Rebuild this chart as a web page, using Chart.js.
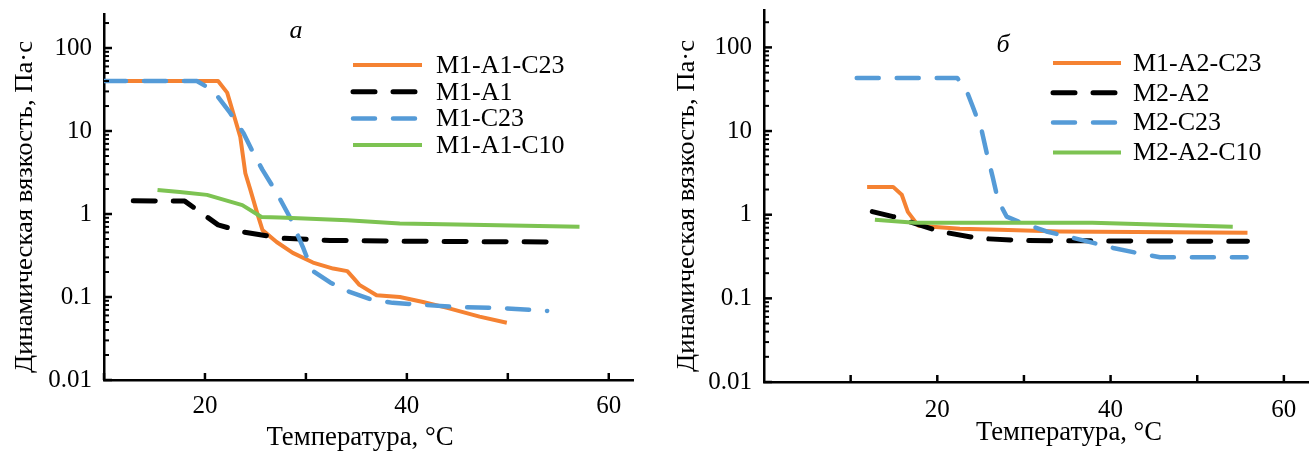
<!DOCTYPE html>
<html>
<head>
<meta charset="utf-8">
<script src="https://cdn.jsdelivr.net/npm/chart.js@4.4.0/dist/chart.umd.min.js"></script>
<style>
  html, body { margin: 0; padding: 0; background: #fff; }
  #wrap { position: relative; width: 1309px; height: 452px; overflow: hidden; }
  .panel { position: absolute; top: 0; height: 452px; }
  #pa { left: 0; width: 650px; }
  #pb { left: 650px; width: 659px; }
</style>
</head>
<body>
<div id="wrap">
  <div class="panel" id="pa"><canvas id="chartA"></canvas></div>
  <div class="panel" id="pb"><canvas id="chartB"></canvas></div>
</div>
<script>
// --- Data (temperature, °C / viscosity, Pa·s) ---
// panel а
const aLabels = ['M1-A1-C23', 'M1-A1', 'M1-C23', 'M1-A1-C10'];
const aT_M1A1C23 = [10, 21.3, 22.2, 22.8, 23.5, 24.0, 24.5, 25.1, 25.7, 27.1, 28.7, 30.7, 32.7, 34.1, 34.7, 35.3, 37.0, 39.3, 41.6, 44.0, 47.2, 49.9];
const aV_M1A1C23 = [40, 40, 29, 16.5, 8.5, 3.1, 1.95, 1.1, 0.64, 0.46, 0.34, 0.26, 0.22, 0.205, 0.17, 0.14, 0.105, 0.10, 0.087, 0.074, 0.058, 0.049];
const aT_M1A1 = [12.9, 18.0, 19.8, 21.3, 23.7, 27.7, 32.4, 40, 54.2];
const aV_M1A1 = [1.44, 1.43, 1.0, 0.74, 0.61, 0.51, 0.48, 0.47, 0.46];
const aT_M1C23 = [10, 19.2, 20.2, 21.3, 22.5, 23.8, 24.8, 25.7, 27.1, 28.4, 29.7, 30.6, 32.4, 34.1, 36.3, 38.6, 40.6, 44.6, 48.9, 53.9];
const aV_M1C23 = [40, 40, 34, 25.7, 16.5, 9.5, 5.4, 3.4, 1.8, 0.92, 0.40, 0.21, 0.15, 0.118, 0.095, 0.085, 0.082, 0.076, 0.074, 0.068];
const aT_M1A1C10 = [15.3, 17.5, 20.2, 23.7, 25.6, 27.4, 34.1, 39.3, 45, 57.1];
const aV_M1A1C10 = [1.95, 1.84, 1.7, 1.28, 0.92, 0.91, 0.84, 0.77, 0.75, 0.70];

// panel б
const bLabels = ['M1-A2-C23', 'M2-A2', 'M2-C23', 'M2-A2-C10'];
const bT_M1A2C23 = [11.9, 14.9, 15.9, 16.6, 17.8, 22.6, 27.2, 34.1, 55.8];
const bV_M1A2C23 = [2.15, 2.15, 1.73, 1.08, 0.74, 0.68, 0.66, 0.63, 0.61];
const bT_M2A2 = [12.5, 14.9, 20.3, 24.9, 30.3, 55.8];
const bV_M2A2 = [1.09, 0.95, 0.63, 0.52, 0.49, 0.48];
const bT_M2C23 = [10.7, 22.3, 23.2, 24.1, 25.1, 25.7, 26.4, 27.0, 28.0, 29.5, 32.6, 37.3, 40.3, 43.0, 45.7, 55.7];
const bV_M2C23 = [43, 43, 34, 19.5, 10.4, 5.5, 2.8, 1.5, 0.95, 0.82, 0.63, 0.48, 0.40, 0.35, 0.31, 0.31];
const bT_M2A2C10 = [12.8, 17.4, 37.9, 54.1];
const bV_M2A2C10 = [0.87, 0.80, 0.80, 0.72];

// ticks
const yTickLabels = [0.01, 0.1, 1, 10, 100];
const yMinorSteps = [2, 3, 4, 5, 6, 7, 8, 9];
const xTicks = [10, 20, 30, 40, 50, 60];
const xTickLabels = [20, 40, 60];

const xTitle = 'Температура, °C';
const yTitle = 'Динамическая вязкость, Па·с';

// --- Helpers ---
const ORANGE = '#F58232', BLACK = '#000000', BLUE = '#559BD7', GREEN = '#7DC352';
const SERIF = '"Liberation Serif", "Times New Roman", serif';

function pts(xs, ys) { return xs.map((x, i) => ({ x: x, y: ys[i] })); }

function yTickList() {
  const out = [];
  yTickLabels.forEach(d => {
    out.push(d);
    if (d < 100) yMinorSteps.forEach(m => out.push(+(d * m).toPrecision(3)));
  });
  out.push(200);
  return out;
}

function makeSets(labels, series) {
  const styles = [
    { borderColor: ORANGE, borderWidth: 4, borderDash: [], order: 4 },
    { borderColor: BLACK, borderWidth: 5, borderDash: [22, 18], order: 3 },
    { borderColor: BLUE, borderWidth: 4.5, borderDash: [22, 18], order: 2 },
    { borderColor: GREEN, borderWidth: 4, borderDash: [], order: 1 }
  ];
  return series.map((s, i) => Object.assign({
    label: labels[i],
    data: pts(s[0], s[1]),
    pointRadius: 0,
    tension: 0,
    fill: false,
    borderCapStyle: styles[i].borderDash.length ? 'round' : 'butt',
    borderJoinStyle: 'round'
  }, styles[i]));
}

// inward tick marks, legend, titles
const decor = {
  id: 'decor',
  afterDraw(chart, args, o) {
    const ctx = chart.ctx, xs = chart.scales.x, ys = chart.scales.y;
    ctx.save();
    ctx.strokeStyle = '#000';
    ctx.lineCap = 'butt';
    ys.ticks.forEach(t => {
      const y = ys.getPixelForValue(t.value);
      const major = yTickLabels.includes(t.value);
      ctx.lineWidth = major ? 2.5 : 2;
      ctx.beginPath();
      ctx.moveTo(xs.left, y);
      ctx.lineTo(xs.left + (major ? 8 : 5), y);
      ctx.stroke();
    });
    ctx.lineWidth = 2.5;
    xs.ticks.forEach(t => {
      const x = xs.getPixelForValue(t.value);
      ctx.beginPath();
      ctx.moveTo(x, ys.bottom);
      ctx.lineTo(x, ys.bottom - 7);
      ctx.stroke();
    });

    // legend
    const lg = o.legend;
    ctx.font = '26px ' + SERIF;
    ctx.textAlign = 'left';
    ctx.textBaseline = 'middle';
    chart.data.datasets.forEach((ds, i) => {
      const y = lg.y + i * lg.step;
      ctx.setLineDash(ds.borderDash);
      ctx.lineCap = ds.borderCapStyle;
      ctx.strokeStyle = ds.borderColor;
      ctx.lineWidth = ds.borderWidth;
      ctx.beginPath();
      ctx.moveTo(lg.x0, y);
      ctx.lineTo(lg.x1, y);
      ctx.stroke();
      ctx.fillStyle = '#000';
      ctx.fillText(ds.label, lg.tx, y + 1);
    });
    ctx.setLineDash([]);

    // panel letter
    ctx.font = 'italic 26px ' + SERIF;
    ctx.textAlign = 'center';
    ctx.textBaseline = 'alphabetic';
    ctx.fillText(o.letter.text, o.letter.x, o.letter.y);

    // axis titles fitted to width
    const fit = (txt, w) => w / ctx.measureText(txt).width;
    ctx.font = '27px ' + SERIF;
    ctx.save();
    ctx.translate(o.xTitle.x, o.xTitle.y);
    ctx.scale(fit(xTitle, o.xTitle.w), 1);
    ctx.fillText(xTitle, 0, 0);
    ctx.restore();
    ctx.font = '26px ' + SERIF;
    ctx.save();
    ctx.translate(o.yTitle.x, o.yTitle.y);
    ctx.rotate(-Math.PI / 2);
    ctx.scale(fit(yTitle, o.yTitle.w), 1);
    ctx.textBaseline = 'middle';
    ctx.fillText(yTitle, 0, 0);
    ctx.restore();
    ctx.restore();
  }
};

function createChart(id, sets, cfg) {
  const ticksY = yTickList();
  return new Chart(document.getElementById(id), {
    type: 'line',
    data: { datasets: sets },
    options: {
      responsive: true,
      maintainAspectRatio: false,
      animation: false,
      events: [],
      layout: { padding: cfg.pad },
      plugins: {
        legend: { display: false },
        tooltip: { enabled: false },
        decor: cfg.decor
      },
      scales: {
        x: {
          type: 'linear',
          min: cfg.xMin,
          max: cfg.xMax,
          afterBuildTicks: s => { s.ticks = xTicks.map(v => ({ value: v })); },
          afterFit: s => { s.height = cfg.xHeight; s.paddingLeft = 0; s.paddingRight = 0; },
          grid: { display: false, drawTicks: false },
          border: { display: true, color: '#000', width: 2.5 },
          ticks: {
            autoSkip: false,
            maxRotation: 0,
            padding: cfg.xPad,
            color: '#000',
            font: { family: SERIF, size: 25 },
            callback: v => xTickLabels.includes(v) ? String(v) : ''
          }
        },
        y: {
          type: 'logarithmic',
          min: 0.01,
          max: cfg.yMax,
          afterBuildTicks: s => { s.ticks = ticksY.map(v => ({ value: v })); },
          afterFit: s => { s.width = cfg.yWidth; s.paddingTop = 0; s.paddingBottom = 0; },
          grid: { display: false, drawTicks: false },
          border: { display: true, color: '#000', width: 2.5 },
          ticks: {
            autoSkip: false,
            padding: 12,
            color: '#000',
            font: { family: SERIF, size: 25 },
            callback: v => yTickLabels.includes(v) ? String(v) : ''
          }
        }
      }
    },
    plugins: [decor]
  });
}

function init() {
  createChart('chartA', makeSets(aLabels, [
    [aT_M1A1C23, aV_M1A1C23], [aT_M1A1, aV_M1A1], [aT_M1C23, aV_M1C23], [aT_M1A1C10, aV_M1A1C10]
  ]), {
    pad: { top: 14, right: 17, bottom: 0, left: 0 },
    xMin: 10, xMax: 62.4, yMax: 257, yWidth: 104, xHeight: 72, xPad: 11,
    decor: {
      legend: { x0: 353, x1: 422, tx: 436, y: 65, step: 26.7 },
      letter: { text: 'а', x: 296, y: 38 },
      xTitle: { x: 360, y: 445, w: 187 },
      yTitle: { x: 25, y: 207, w: 332 }
    }
  });

  createChart('chartB', makeSets(bLabels, [
    [bT_M1A2C23, bV_M1A2C23], [bT_M2A2, bV_M2A2], [bT_M2C23, bV_M2C23], [bT_M2A2C10, bV_M2A2C10]
  ]), {
    pad: { top: 10, right: 0, bottom: 0, left: 0 },
    xMin: 0, xMax: 62.9, yMax: 280, yWidth: 114, xHeight: 70, xPad: 13,
    decor: {
      legend: { x0: 403, x1: 471, tx: 483, y: 63, step: 29.8 },
      letter: { text: 'б', x: 353, y: 52 },
      xTitle: { x: 419, y: 440, w: 186 },
      yTitle: { x: 37, y: 206, w: 332 }
    }
  });
}

document.addEventListener('DOMContentLoaded', init);
</script>
</body>
</html>
